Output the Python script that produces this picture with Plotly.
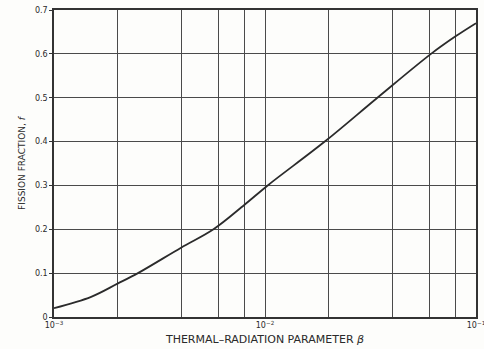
import plotly.graph_objects as go

# Fission fraction f versus thermal-radiation parameter beta
beta = [1e-3, 1.5e-3, 2e-3, 2.5e-3, 4e-3, 5.7e-3, 8e-3, 1.03e-2,
        1.92e-2, 3.41e-2, 6.12e-2, 8e-2, 1e-1]
fission_fraction = [0.020, 0.046, 0.076, 0.100, 0.158, 0.200, 0.256, 0.300,
                    0.400, 0.500, 0.600, 0.640, 0.670]

# Log-axis grid positions (2, 4, 6, 8 per decade) and their labels
x_grid = [1e-3, 2e-3, 4e-3, 6e-3, 8e-3, 1e-2, 2e-2, 4e-2, 6e-2, 8e-2, 1e-1]
x_labels = ["10<sup>−3</sup>", "", "", "", "", "10<sup>−2</sup>", "", "", "", "", "10<sup>−1</sup>"]
y_ticks = [0, 0.1, 0.2, 0.3, 0.4, 0.5, 0.6, 0.7]
y_labels = ["0", "0.1", "0.2", "0.3", "0.4", "0.5", "0.6", "0.7"]

ink = "#333333"
text_color = "#2a2a2a"

fig = go.Figure()
fig.add_trace(go.Scatter(
    x=beta, y=fission_fraction, mode="lines",
    line=dict(color="#2b2b2b", width=1.8, shape="spline", smoothing=1.0),
    hoverinfo="skip", showlegend=False,
))

fig.update_layout(
    width=484, height=349,
    margin=dict(l=54, r=8, t=10, b=32),
    paper_bgcolor="#fdfdfb", plot_bgcolor="#fdfdfb",
    font=dict(family="DejaVu Sans", size=8, color=text_color),
    xaxis=dict(
        type="log", range=[-3, -1], automargin=False,
        tickmode="array", tickvals=x_grid, ticktext=x_labels,
        ticklabeloverflow="allow",
        showgrid=True, gridcolor="#4a4a4a", gridwidth=1,
        showline=True, linecolor=ink, linewidth=1.5, mirror=True,
        ticks="", zeroline=False,
        tickfont=dict(family="DejaVu Sans", size=8, color=text_color),
        title=dict(text="THERMAL–RADIATION PARAMETER <i>β</i>",
                   font=dict(family="DejaVu Sans", size=11, color=text_color),
                   standoff=6),
    ),
    yaxis=dict(
        range=[0, 0.7], automargin=False,
        tickmode="array", tickvals=y_ticks, ticktext=y_labels,
        ticklabeloverflow="allow",
        showgrid=True, gridcolor="#4a4a4a", gridwidth=1,
        showline=True, linecolor=ink, linewidth=1.5, mirror=True,
        ticks="outside", ticklen=3, tickcolor=ink, zeroline=False,
        tickfont=dict(family="DejaVu Sans", size=8, color=text_color),
        title=dict(text="FISSION FRACTION, <i>f</i>",
                   font=dict(family="DejaVu Sans", size=9, color=text_color),
                   standoff=8),
    ),
)

fig.write_html("out.html")
